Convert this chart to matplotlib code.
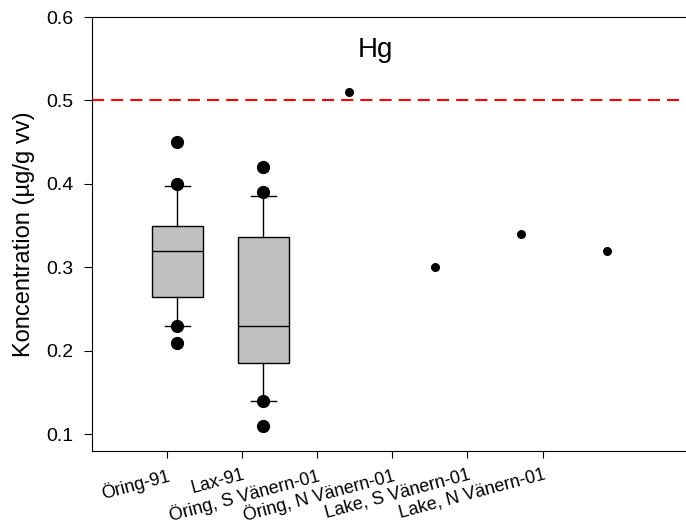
import numpy as np
import matplotlib
matplotlib.use("Agg")
import matplotlib.pyplot as plt

plt.rcParams['font.family'] = ['Liberation Sans', 'DejaVu Sans']

# Kategorier
kategorier = ["Öring-91", "Lax-91", "Öring, S Vänern-01", "Öring, N Vänern-01",
              "Lake, S Vänern-01", "Lake, N Vänern-01"]

# Lådagram (Öring-91, Lax-91): q1, median, q3, whiskers, avvikare
box_q1 = [0.265, 0.185]
box_med = [0.32, 0.23]
box_q3 = [0.35, 0.337]
box_wlo = [0.23, 0.14]
box_whi = [0.397, 0.385]
box_fliers = [[0.45, 0.40, 0.23, 0.21], [0.42, 0.39, 0.14, 0.11]]

# Enskilda värden 2001
enskilda = [0.51, 0.30, 0.34, 0.32]

# Gränsvärde
grans = 0.5

fig = plt.figure(figsize=(6.86, 5.29), dpi=100)
ax = fig.add_axes([91.5 / 686, (529 - 451) / 529, (693 - 91.5) / 686, (451 - 17) / 529])

stats = []
for i in range(2):
    stats.append(dict(q1=box_q1[i], med=box_med[i], q3=box_q3[i],
                      whislo=box_wlo[i], whishi=box_whi[i], fliers=box_fliers[i]))

ax.bxp(stats, positions=[1, 2], widths=0.6, patch_artist=True, manage_ticks=False,
       boxprops=dict(facecolor="#c0c0c0", edgecolor="black", linewidth=1.0),
       medianprops=dict(color="black", linewidth=1.0),
       whiskerprops=dict(color="black", linewidth=1.0),
       capprops=dict(color="black", linewidth=1.0),
       capwidths=0.29,
       flierprops=dict(marker="o", markerfacecolor="black", markeredgecolor="black",
                       markersize=8.5, linestyle="none"))

ax.plot(np.arange(3, 7), enskilda, "o", color="black", markersize=5.5, linestyle="none")

ax.axhline(grans, color="red", linewidth=1.5, linestyle=(0, (5.8, 3.4)), zorder=1)

ax.text(3.3, 0.56, "Hg", fontsize=20, ha="center", va="center")

ax.set_xlim(0, 7)
ax.set_ylim(0.08, 0.6)
ax.set_yticks([0.1, 0.2, 0.3, 0.4, 0.5, 0.6])
ax.set_yticklabels(["0.1", "0.2", "0.3", "0.4", "0.5", "0.6"])
ax.set_xticks(np.arange(1, 7) * 7 / 8)
ax.set_xticklabels(kategorier, rotation=15, ha="right", va="top", rotation_mode="anchor")
ax.tick_params(axis="y", labelsize=14, length=6, direction="out", pad=7)
ax.tick_params(axis="x", labelsize=13, length=5, direction="out", pad=6)
ax.set_ylabel("Koncentration (µg/g vv)", fontsize=17, labelpad=8)

fig.savefig("out.png", dpi=100)
